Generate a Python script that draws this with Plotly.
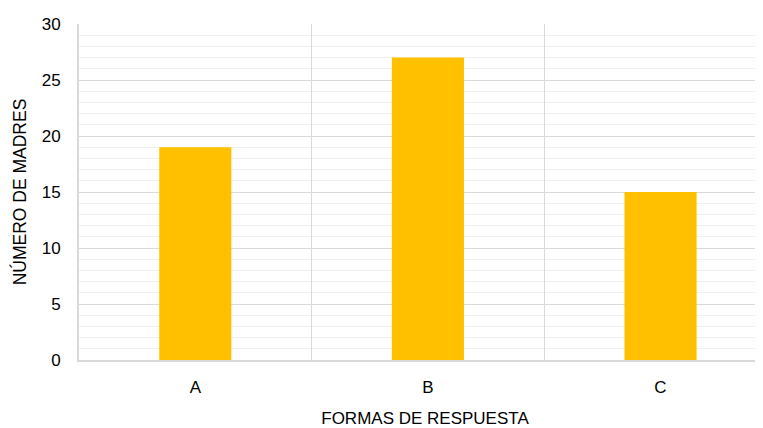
import plotly.graph_objects as go

categories = ["A", "B", "C"]
values = [19, 27, 15]

FONT = "Liberation Sans, Arial, sans-serif"

fig = go.Figure(go.Bar(x=categories, y=values, marker=dict(color="#FFC000", line=dict(width=0)), width=0.31))

fig.update_layout(
    width=763, height=420,
    margin=dict(l=71, r=0, t=16, b=68),
    paper_bgcolor="white", plot_bgcolor="white",
    font=dict(family=FONT, size=17, color="#000000"),
    showlegend=False,
)
fig.update_xaxes(
    type="category", range=[-0.5, 2.475], automargin=False,
    tickson="boundaries", showgrid=True, gridcolor="#d9d9d9", gridwidth=1.3,
    showline=True, linecolor="#d9d9d9", linewidth=2,
    ticks="", ticklen=0, ticklabelstandoff=11,
    title=dict(text="FORMAS DE RESPUESTA", font=dict(family=FONT, size=17), standoff=16),
)
fig.update_yaxes(
    range=[0, 30], dtick=5, tick0=0, automargin=False,
    showgrid=True, gridcolor="#d9d9d9", gridwidth=1.3,
    minor=dict(dtick=1, showgrid=True, gridcolor="#f0f0f0", gridwidth=1.3),
    showline=True, linecolor="#d9d9d9", linewidth=2,
    zeroline=False, ticks="", ticklabelstandoff=13,
    title=dict(text="NÚMERO DE MADRES", font=dict(family=FONT, size=17.5), standoff=11),
)

fig.write_html("out.html")
